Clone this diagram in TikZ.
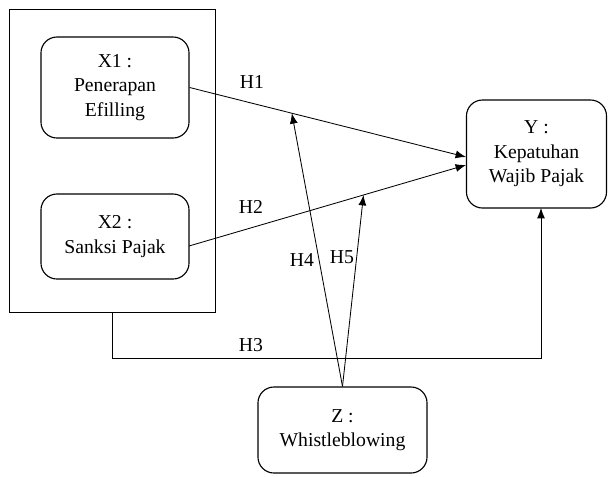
\documentclass[tikz,border=0pt]{standalone}
\usepackage{fontspec}
\setmainfont{Liberation Serif}
\usetikzlibrary{arrows.meta}

\begin{document}
\begin{tikzpicture}[
		x=0.025cm, y=-0.025cm,
		varnode/.style={
		% The shape:
		rectangle,
		rounded corners=0.4cm,
		% The border:
		draw=black,
		line width=0.8pt,
		% Font
		font=\fontsize{14pt}{17.5pt}\selectfont,
		align=center,
		inner sep=0pt
		},
		hlabel/.style={font=\fontsize{14pt}{17pt}\selectfont, inner sep=1pt},
		arr/.style={-{Latex[length=2.6mm,width=2mm]}, line width=0.6pt}
	]
	\useasboundingbox (0,0) rectangle (608,476);

	\node (G)[draw=black, line width=0.6pt, minimum width=5.15cm, minimum height=7.575cm] at (112,160.5) {};
	\node (X1)[varnode, minimum width=3.7cm, minimum height=2.525cm] at (115,87.5) {X1 :\\Penerapan\\Efilling};
	\node (X2)[varnode, minimum width=3.7cm, minimum height=2.125cm] at (115,236.5) {X2 :\\Sanksi Pajak};
	\node (Y)[varnode, minimum width=3.5cm, minimum height=2.7cm] at (536.5,154) {Y :\\Kepatuhan\\Wajib Pajak};
	\node (Z)[varnode, minimum width=4.225cm, minimum height=2.15cm] at (342.5,430) {Z :\\Whistleblowing};

	\coordinate (Yin1) at (466,157);
	\coordinate (Yin2) at (466,165);
	\coordinate (X2out) at (189,246);
	\coordinate (Yin3) at (541,208);
	\coordinate (H3turn) at (541,358);

	\node (LH1)[hlabel] at (252,82) {H1};
	\node (LH2)[hlabel] at (251,207) {H2};
	\node (LH3)[hlabel] at (251,345) {H3};
	\node (LH4)[hlabel] at (302,260) {H4};
	\node (LH5)[hlabel] at (342,257) {H5};

  	\draw [arr] (X1.east) -- coordinate[pos=0.37] (M1) (Yin1);
  	\draw [arr] (X2out) -- coordinate[pos=0.63] (M2) (Yin2);
  	\draw [arr] (Z.north) -- (M1);
  	\draw [arr] (Z.north) -- (M2);
  	\draw [arr] (G.south) |- (H3turn) -- (Yin3);
\end{tikzpicture}
\end{document}
